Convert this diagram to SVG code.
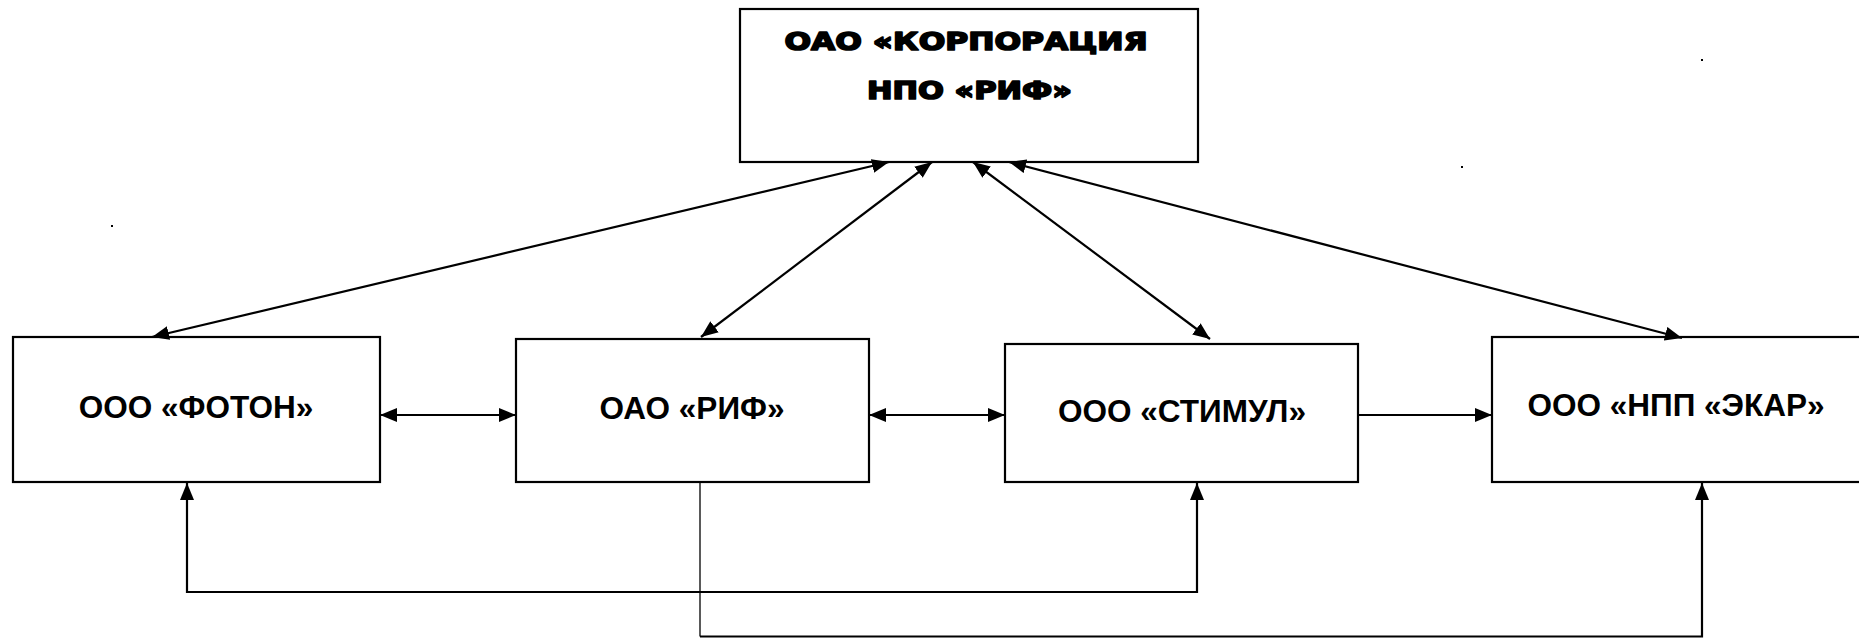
<svg xmlns="http://www.w3.org/2000/svg" width="1859" height="638" viewBox="0 0 1859 638">
<style>
.box{fill:#fff;stroke:#000;stroke-width:2.2}
.lbl{font-family:"Liberation Sans",Arial,sans-serif;font-weight:bold;font-size:31.5px;fill:#000;text-anchor:middle}
.hd{font-family:"DejaVu Sans","Liberation Sans",sans-serif;font-weight:bold;font-size:25px;fill:#000;stroke:#000;stroke-width:1.7;stroke-linejoin:round;text-anchor:middle}
.c{fill:none;stroke:#000;stroke-width:2.2}
.thin{fill:none;stroke:#000;stroke-width:1.3}
</style>
<defs>
<marker id="ah" viewBox="0 0 17 14" refX="17" refY="7" markerWidth="17" markerHeight="14" markerUnits="userSpaceOnUse" orient="auto-start-reverse">
<path d="M0,0 L17,7 L0,14 z" fill="#000"/>
</marker>
</defs>
<rect width="1859" height="638" fill="#fff"/>
<g id="corp">
<rect class="box" x="740" y="9" width="458" height="153"/>
<text class="hd" x="966" y="50" textLength="363" lengthAdjust="spacingAndGlyphs">ОАО «КОРПОРАЦИЯ</text>
<text class="hd" x="969.5" y="99" textLength="205" lengthAdjust="spacingAndGlyphs">НПО «РИФ»</text>
</g>
<g id="foton">
<rect class="box" x="13" y="337" width="367" height="145"/>
<text class="lbl" x="196" y="417.5">ООО «ФОТОН»</text>
</g>
<g id="rif">
<rect class="box" x="516" y="339" width="353" height="143"/>
<text class="lbl" x="692" y="419">ОАО «РИФ»</text>
</g>
<g id="stimul">
<rect class="box" x="1005" y="344" width="353" height="138"/>
<text class="lbl" x="1182" y="422">ООО «СТИМУЛ»</text>
</g>
<g id="ekar">
<rect class="box" x="1492" y="337" width="372" height="145"/>
<text class="lbl" x="1676" y="416">ООО «НПП «ЭКАР»</text>
</g>
<g id="connectors">
<path class="c" d="M889,162 L152,337" marker-start="url(#ah)" marker-end="url(#ah)"/>
<path class="c" d="M932,162 L701,337" marker-start="url(#ah)" marker-end="url(#ah)"/>
<path class="c" d="M973,162 L1210,339" marker-start="url(#ah)" marker-end="url(#ah)"/>
<path class="c" d="M1009,162 L1682,338" marker-start="url(#ah)" marker-end="url(#ah)"/>
<path class="c" d="M380,415 L516,415" marker-start="url(#ah)" marker-end="url(#ah)"/>
<path class="c" d="M869,415 L1005,415" marker-start="url(#ah)" marker-end="url(#ah)"/>
<path class="c" d="M1358,415 L1492,415" marker-end="url(#ah)"/>
<path class="c" d="M187,483 L187,592 L1197,592 L1197,483" marker-start="url(#ah)" marker-end="url(#ah)"/>
<path class="thin" d="M700,482 L700,636.5"/>
<path class="c" d="M700,636.5 L1702,636.5 L1702,483" marker-end="url(#ah)"/>
</g>
<g id="dots" fill="#000">
<rect x="111" y="225" width="2" height="2"/>
<rect x="1461" y="166" width="2" height="2"/>
<rect x="1701" y="59" width="2" height="2"/>
</g>
</svg>
